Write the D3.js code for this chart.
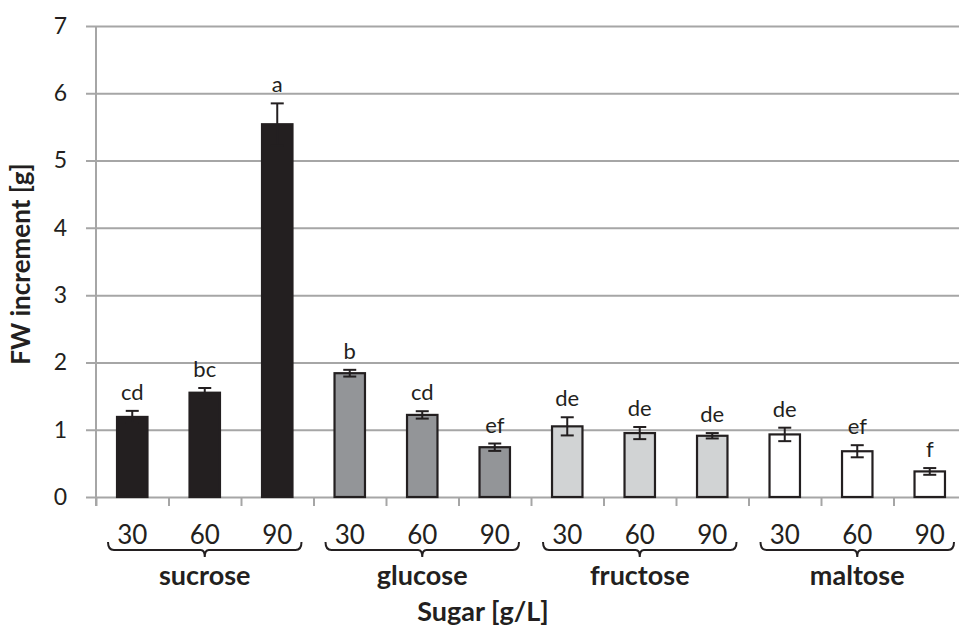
<!DOCTYPE html>
<html>
<head>
<meta charset="utf-8">
<script src="https://cdn.jsdelivr.net/npm/d3@7"></script>
<style>
  body { margin: 0; background: #fff; }
  text { font-family: Lato, 'Open Sans', sans-serif; fill: #231f20; }
</style>
</head>
<body>
<script>
const groups = ['sucrose', 'glucose', 'fructose', 'maltose'];
const concentrations = ['30', '60', '90'];
const means = [1.19, 1.55, 5.54, 1.84, 1.22, 0.74, 1.05, 0.95, 0.91, 0.93, 0.68, 0.38];
const errors = [0.09, 0.07, 0.31, 0.05, 0.055, 0.055, 0.135, 0.09, 0.04, 0.1, 0.09, 0.05];
const letters = ['cd', 'bc', 'a', 'b', 'cd', 'ef', 'de', 'de', 'de', 'de', 'ef', 'f'];
const yTicks = [0, 1, 2, 3, 4, 5, 6, 7];
const groupFill = ['#231f20', '#939598', '#d1d3d4', '#ffffff'];

const width = 959;
const height = 628;
const plot = { left: 96, right: 966, top: 26, bottom: 497 };
const ink = '#231f20';
const gridColor = '#a6a6a6';

const data = means.map((v, i) => ({
  id: i,
  group: Math.floor(i / concentrations.length),
  conc: concentrations[i % concentrations.length],
  value: v,
  err: errors[i],
  letter: letters[i],
}));

const svg = d3.select('body')
  .append('svg')
  .attr('width', width)
  .attr('height', height);

const y = d3.scaleLinear().domain([0, 7]).range([plot.bottom, plot.top]);
const x = d3.scaleBand()
  .domain(data.map(d => d.id))
  .range([plot.left, plot.right])
  .paddingInner(0.58)
  .paddingOuter(0.29);
const xb = d3.scaleLinear().domain([0, data.length]).range([plot.left, plot.right]);

// gridlines + y labels
const yAxis = svg.append('g')
  .attr('transform', `translate(${plot.right}, 0)`)
  .call(d3.axisLeft(y)
    .tickValues(yTicks)
    .tickFormat(d3.format('d'))
    .tickSize(plot.right - plot.left + 10)
    .tickPadding(19));
yAxis.select('.domain').remove();
yAxis.selectAll('line').attr('stroke', gridColor).attr('stroke-width', 2);
yAxis.selectAll('text')
  .style('font-family', 'Lato, sans-serif')
  .attr('font-size', 23)
  .attr('fill', ink);

// y axis line
svg.append('line')
  .attr('x1', plot.left).attr('x2', plot.left)
  .attr('y1', y(7)).attr('y2', plot.bottom + 9)
  .attr('stroke', gridColor).attr('stroke-width', 2);

// x ticks at category boundaries
const xAxis = svg.append('g')
  .attr('transform', `translate(0, ${plot.bottom})`)
  .call(d3.axisBottom(xb).tickValues(d3.range(data.length + 1)).tickFormat('').tickSize(9));
xAxis.select('.domain').remove();
xAxis.selectAll('line').attr('stroke', gridColor).attr('stroke-width', 2);

// bars
svg.selectAll('rect.bar')
  .data(data)
  .enter()
  .append('rect')
  .attr('class', 'bar')
  .attr('x', d => x(d.id))
  .attr('y', d => y(d.value))
  .attr('width', x.bandwidth())
  .attr('height', d => plot.bottom - y(d.value))
  .attr('fill', d => groupFill[d.group])
  .attr('stroke', ink)
  .attr('stroke-width', 2.2);

// error bars
const eb = svg.selectAll('g.err')
  .data(data)
  .enter()
  .append('g')
  .attr('class', 'err')
  .attr('stroke', ink)
  .attr('stroke-width', 2);
const cx = d => x(d.id) + x.bandwidth() / 2;
eb.append('line')
  .attr('x1', cx).attr('x2', cx)
  .attr('y1', d => y(d.value - d.err)).attr('y2', d => y(d.value + d.err));
eb.append('line')
  .attr('x1', d => cx(d) - 6.5).attr('x2', d => cx(d) + 6.5)
  .attr('y1', d => y(d.value + d.err)).attr('y2', d => y(d.value + d.err));
eb.append('line')
  .attr('x1', d => cx(d) - 6.5).attr('x2', d => cx(d) + 6.5)
  .attr('y1', d => y(d.value - d.err)).attr('y2', d => y(d.value - d.err));

// significance letters
svg.selectAll('text.letter')
  .data(data)
  .enter()
  .append('text')
  .attr('class', 'letter')
  .attr('x', cx)
  .attr('y', d => y(d.value + d.err) - 11)
  .attr('text-anchor', 'middle')
  .attr('font-size', 22)
  .text(d => d.letter);

// concentration labels
svg.selectAll('text.conc')
  .data(data)
  .enter()
  .append('text')
  .attr('class', 'conc')
  .attr('x', cx)
  .attr('y', 544)
  .attr('text-anchor', 'middle')
  .attr('font-size', 26)
  .text(d => d.conc);

// group braces + names
const n = concentrations.length;
const brace = g => {
  const x0 = xb(g * n) + 12;
  const x1 = xb(g * n + n) - 12;
  const xm = (x0 + x1) / 2;
  return `M${x0},542 Q${x0},550 ${x0 + 6},550 L${xm - 4},550 Q${xm},550 ${xm},557 ` +
    `Q${xm},550 ${xm + 4},550 L${x1 - 6},550 Q${x1},550 ${x1},542`;
};
svg.selectAll('path.brace')
  .data(groups)
  .enter()
  .append('path')
  .attr('class', 'brace')
  .attr('d', (d, i) => brace(i))
  .attr('fill', 'none')
  .attr('stroke', ink)
  .attr('stroke-width', 2);

svg.selectAll('text.group')
  .data(groups)
  .enter()
  .append('text')
  .attr('class', 'group')
  .attr('x', (d, i) => (xb(i * n) + xb(i * n + n)) / 2)
  .attr('y', 585)
  .attr('text-anchor', 'middle')
  .attr('font-size', 27)
  .attr('font-weight', 'bold')
  .text(d => d);

// axis titles
svg.append('text')
  .attr('x', 483)
  .attr('y', 621)
  .attr('text-anchor', 'middle')
  .attr('font-size', 27)
  .attr('font-weight', 'bold')
  .text('Sugar [g/L]');

svg.append('text')
  .attr('transform', 'translate(30, 264) rotate(-90)')
  .attr('text-anchor', 'middle')
  .attr('font-size', 26)
  .attr('font-weight', 'bold')
  .text('FW increment [g]');
</script>
</body>
</html>
